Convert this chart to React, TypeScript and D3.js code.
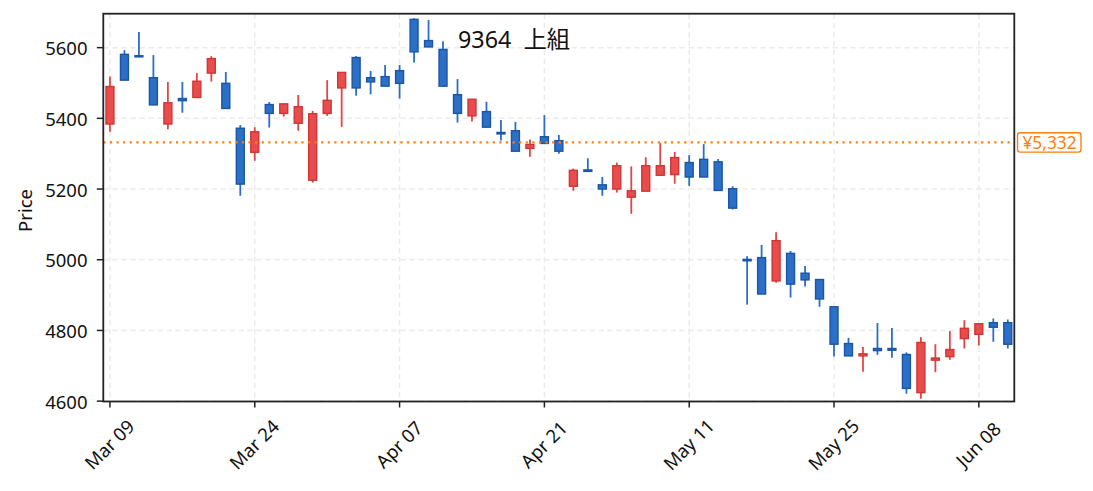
import React, { useMemo } from "react";
import * as d3 from "d3";

const WIDTH = 1093;
const HEIGHT = 491;
const PLOT = { left: 103.3, right: 1014.3, top: 13.7, bottom: 401.5 };
const FONT = "'Noto Sans', 'Noto Sans CJK JP', sans-serif";

const TITLE = "9364  上組";
const LAST_PRICE = 5332;

const dates = [
  "Mar 09", "Mar 10", "Mar 11", "Mar 12", "Mar 13", "Mar 16", "Mar 17", "Mar 18", "Mar 19", "Mar 23",
  "Mar 24", "Mar 25", "Mar 26", "Mar 27", "Mar 30", "Mar 31", "Apr 01", "Apr 02", "Apr 03", "Apr 06",
  "Apr 07", "Apr 08", "Apr 09", "Apr 10", "Apr 13", "Apr 14", "Apr 15", "Apr 16", "Apr 17", "Apr 20",
  "Apr 21", "Apr 22", "Apr 23", "Apr 24", "Apr 27", "Apr 28", "Apr 30", "May 01", "May 07", "May 08",
  "May 11", "May 12", "May 13", "May 14", "May 15", "May 18", "May 19", "May 20", "May 21", "May 22",
  "May 25", "May 26", "May 27", "May 28", "May 29", "Jun 01", "Jun 02", "Jun 03", "Jun 04", "Jun 05",
  "Jun 08", "Jun 09", "Jun 10",
];

const opens = [
  5384, 5581, 5577, 5515, 5384, 5456, 5459, 5528, 5499, 5372,
  5304, 5439, 5414, 5386, 5225, 5414, 5486, 5572, 5515, 5518,
  5535, 5680, 5620, 5595, 5467, 5407, 5419, 5360, 5365, 5315,
  5348, 5337, 5208, 5254, 5212, 5200, 5177, 5194, 5239, 5241,
  5275, 5284, 5277, 5201, 5001, 5006, 4940, 5018, 4962, 4944,
  4867, 4763, 4728, 4749, 4749, 4732, 4624, 4716, 4726, 4777,
  4789, 4822, 4822,
];
const highs = [
  5518, 5593, 5644, 5579, 5503, 5503, 5528, 5576, 5531, 5381,
  5375, 5446, 5441, 5466, 5421, 5508, 5530, 5576, 5534, 5551,
  5551, 5683, 5678, 5618, 5511, 5454, 5447, 5395, 5390, 5340,
  5409, 5353, 5258, 5287, 5234, 5275, 5264, 5290, 5330, 5305,
  5296, 5327, 5285, 5208, 5010, 5042, 5078, 5025, 4982, 4944,
  4867, 4779, 4753, 4821, 4807, 4738, 4781, 4761, 4798, 4829,
  4819, 4834, 4831,
];
const lows = [
  5362, 5508, 5573, 5438, 5369, 5416, 5459, 5504, 5428, 5181,
  5280, 5374, 5405, 5365, 5218, 5407, 5376, 5464, 5468, 5491,
  5456, 5558, 5602, 5491, 5388, 5391, 5375, 5337, 5307, 5291,
  5329, 5300, 5195, 5250, 5181, 5190, 5130, 5194, 5239, 5215,
  5209, 5234, 5196, 5142, 4873, 4903, 4935, 4893, 4924, 4867,
  4726, 4728, 4683, 4731, 4723, 4621, 4607, 4682, 4717, 4749,
  4757, 4768, 4749,
];
const closes = [
  5490, 5508, 5574, 5438, 5444, 5450, 5505, 5569, 5428, 5214,
  5362, 5414, 5441, 5433, 5413, 5451, 5530, 5486, 5503, 5491,
  5499, 5588, 5602, 5491, 5414, 5454, 5375, 5356, 5307, 5326,
  5329, 5307, 5253, 5250, 5200, 5266, 5195, 5266, 5266, 5289,
  5234, 5234, 5196, 5146, 4997, 4903, 5054, 4931, 4943, 4889,
  4761, 4728, 4734, 4743, 4744, 4636, 4766, 4722, 4746, 4806,
  4819, 4809, 4761,
];

const tickDates = ["Mar 09", "Mar 24", "Apr 07", "Apr 21", "May 11", "May 25", "Jun 08"];
const priceTicks = [4600, 4800, 5000, 5200, 5400, 5600];

const UP = { fill: "#e84c4c", edge: "#d13636", wick: "#e24545" };
const DOWN = { fill: "#2b6fc7", edge: "#1b55a6", wick: "#2a6ec8" };

export default function App() {
  const x = useMemo(
    () => d3.scaleLinear().domain([-0.46, 62.45]).range([PLOT.left, PLOT.right]),
    []
  );
  const y = useMemo(
    () => d3.scaleLinear().domain([4599, 5696]).range([PLOT.bottom, PLOT.top]),
    []
  );

  const step = x(1) - x(0);
  const bodyW = step * 0.55;

  const candles = dates.map((d, i) => {
    const up = closes[i] >= opens[i];
    const c = up ? UP : DOWN;
    const cx = x(i);
    const yTop = y(Math.max(opens[i], closes[i]));
    const yBot = y(Math.min(opens[i], closes[i]));
    return (
      <g key={d}>
        <line x1={cx} x2={cx} y1={y(highs[i])} y2={y(lows[i])} stroke={c.wick} strokeWidth={1.8} />
        <rect
          x={cx - bodyW / 2}
          y={yTop}
          width={bodyW}
          height={Math.max(yBot - yTop, 0.8)}
          fill={c.fill}
          stroke={c.edge}
          strokeWidth={1.4}
        />
      </g>
    );
  });

  const xTicks = tickDates.map((t) => {
    const tx = x(dates.indexOf(t));
    return (
      <g key={t}>
        <line x1={tx} x2={tx} y1={PLOT.top} y2={PLOT.bottom} stroke="#ebebeb" strokeWidth={1.5} strokeDasharray="5.5,3.5" />
        <line x1={tx} x2={tx} y1={PLOT.bottom} y2={PLOT.bottom + 6} stroke="#222" strokeWidth={1.5} />
        <text
          transform={`translate(${tx - 1},${444}) rotate(-45)`}
          textAnchor="middle"
          dominantBaseline="central"
          fontSize={18.5}
          fill="#111"
        >
          {t}
        </text>
      </g>
    );
  });

  const yTicks = priceTicks.map((v) => (
    <g key={v}>
      <line x1={PLOT.left} x2={PLOT.right} y1={y(v)} y2={y(v)} stroke="#ebebeb" strokeWidth={1.5} strokeDasharray="5.5,3.5" />
      <line x1={PLOT.left - 6.5} x2={PLOT.left} y1={y(v)} y2={y(v)} stroke="#222" strokeWidth={1.5} />
      <text x={87.5} y={y(v)} textAnchor="end" dominantBaseline="central" fontSize={18.5} fill="#111">
        {v}
      </text>
    </g>
  ));

  const lastY = y(LAST_PRICE);

  return (
    <svg
      width={WIDTH}
      height={HEIGHT}
      style={{ position: "absolute", left: 0, top: 0, background: "#fff", fontFamily: FONT }}
    >
      <rect width={WIDTH} height={HEIGHT} fill="#fff" />
      {yTicks}
      {xTicks}
      {candles}
      <line
        x1={PLOT.left}
        x2={PLOT.right}
        y1={lastY}
        y2={lastY}
        stroke="#ff7f0e"
        strokeWidth={2.2}
        strokeDasharray="2.2,4.4"
      />
      <rect
        x={PLOT.left}
        y={PLOT.top}
        width={PLOT.right - PLOT.left}
        height={PLOT.bottom - PLOT.top}
        fill="none"
        stroke="#222"
        strokeWidth={1.8}
      />
      <g>
        <rect x={1017.5} y={lastY - 9.7} width={63.5} height={19.4} rx={2.5} fill="#fff" stroke="#ff7f0e" strokeWidth={1.4} />
        <text x={1049.5} y={lastY} textAnchor="middle" dominantBaseline="central" fontSize={17.3} fill="#ff7f0e">
          ¥{d3.format(",")(LAST_PRICE)}
        </text>
      </g>
      <text x={458} y={48} fontSize={23.3} fill="#111" style={{ whiteSpace: "pre" }}>
        {TITLE}
      </text>
      <text
        transform={`translate(24,210.5) rotate(-90)`}
        textAnchor="middle"
        dominantBaseline="central"
        fontSize={18.5}
        fill="#111"
      >
        Price
      </text>
    </svg>
  );
}
